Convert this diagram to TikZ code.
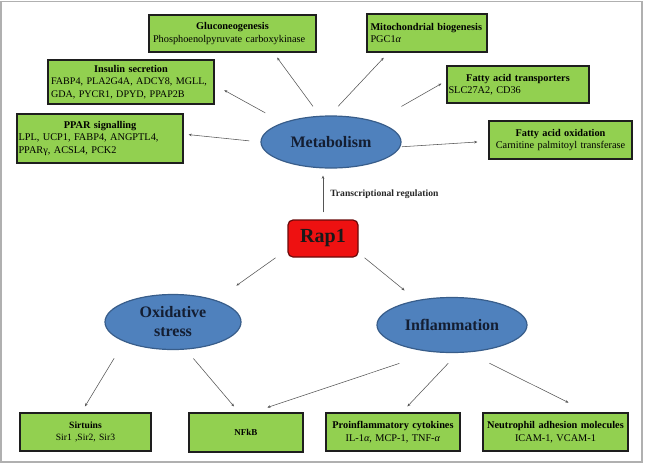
\documentclass[tikz,border=0pt]{standalone}
\usepackage{fontspec}
\setmainfont{Liberation Serif}
\usetikzlibrary{arrows.meta,shapes.geometric,calc}
\definecolor{gfill}{HTML}{92D050}
\definecolor{gdraw}{HTML}{1E1E1E}
\definecolor{ellfill}{HTML}{4F81BD}
\definecolor{elldraw}{HTML}{385D8A}
\definecolor{rapfill}{HTML}{EE1111}
\definecolor{rapdraw}{HTML}{6A0A0A}
\definecolor{ink}{HTML}{141E32}
\definecolor{framec}{HTML}{B0B0B0}
\definecolor{arrc}{HTML}{555555}
\begin{document}
\begin{tikzpicture}[x=1pt,y=-1pt,
  gbox/.style={draw=gdraw, line width=1.2pt, fill=gfill, inner ysep=0pt,
    font=\fontsize{10.3}{12.5}\selectfont, text=black, align=left},
  ell/.style={ellipse, draw=elldraw, fill=ellfill, line width=1.2pt, inner sep=0pt,
    font=\fontsize{16}{19}\selectfont\bfseries, text=ink, align=center},
  rapbox/.style={draw=rapdraw, fill=rapfill, line width=1.2pt, rounded corners=5pt,
    inner sep=0pt, font=\fontsize{20}{24}\selectfont\bfseries, text=black!90},
  arr/.style={-{Stealth[length=3.2pt,width=2.6pt]}, line width=0.55pt, draw=arrc},
  lbl/.style={font=\fontsize{9.6}{11}\selectfont\bfseries, text=black!85, inner sep=0pt}
]
\useasboundingbox (0,0) rectangle (646,464);
\draw[framec, line width=1.4pt] (1,1.5) rectangle (642,462);

% top boxes
\node[gbox, minimum width=167pt, minimum height=37pt, text width=159pt, inner xsep=4pt] (gluc) at (232.5,33.5)
  {{\centering\textbf{Gluconeogenesis}\par}Phosphoenolpyruvate carboxykinase};
\node[gbox, minimum width=166pt, minimum height=44pt, text width=160pt, inner xsep=3pt] (ins) at (131,82)
  {{\centering\textbf{Insulin secretion}\par}{\fontsize{10.1}{12.8}\selectfont FABP4, PLA2G4A, ADCY8, MGLL,\\GDA, PYCR1, DPYD, PPAP2B\par}};
\node[gbox, minimum width=166pt, minimum height=49pt, text width=163pt, inner xsep=1.5pt] (ppar) at (100,138.5)
  {{\centering\textbf{PPAR signalling}\par}LPL, UCP1, FABP4, ANGPTL4,\\PPARγ, ACSL4, PCK2};
\node[gbox, minimum width=120pt, minimum height=38pt, text width=113pt, inner xsep=3.5pt] (mito) at (427,33)
  {\textbf{Mitochondrial biogenesis}\\PGC1\textit{α}};
\node[gbox, minimum width=142pt, minimum height=37pt, text width=139pt, inner xsep=1.5pt] (fat) at (518,84.5)
  {{\centering\textbf{Fatty acid transporters}\par}SLC27A2, CD36};
\node[gbox, minimum width=143pt, minimum height=38pt, text width=139pt, inner xsep=2pt, align=center] (fao) at (560.5,140)
  {\textbf{Fatty acid oxidation}\\Carnitine palmitoyl transferase};

% ellipses and Rap1
\node[ell, minimum width=140pt, minimum height=52pt] (meta) at (331,142) {Metabolism};
\node[rapbox, minimum width=70pt, minimum height=37pt] (rap) at (323,238.5) {Rap1};
\node[ell, minimum width=136pt, minimum height=55pt] (ox) at (173,322) {Oxidative\\stress};
\node[ell, minimum width=150pt, minimum height=55pt] (inf) at (452,325) {Inflammation};

% bottom boxes
\node[gbox, minimum width=131pt, minimum height=38pt, text width=127pt, inner xsep=2pt, align=center,
  font=\fontsize{9.6}{12.5}\selectfont] (sir) at (85.5,432)
  {\textbf{Sirtuins}\\Sir1 ,Sir2, Sir3};
\node[gbox, minimum width=114pt, minimum height=39pt, text width=110pt, inner xsep=2pt, align=center,
  font=\fontsize{9}{11}\selectfont] (nfkb) at (246,432.5) {\textbf{NFkB}};
\node[gbox, minimum width=134pt, minimum height=38pt, text width=130pt, inner xsep=2pt, align=center] (pro) at (393,432)
  {\textbf{Proinflammatory cytokines}\\IL-1\textit{α}, MCP-1, TNF-\textit{α}};
\node[gbox, minimum width=145pt, minimum height=38pt, text width=141pt, inner xsep=2pt, align=center] (neu) at (555.5,432)
  {\textbf{Neutrophil adhesion molecules}\\ICAM-1, VCAM-1};

% connectors from Metabolism
\draw[arr, shorten <=11pt, shorten >=5pt] (meta.180) -- (ppar.3);
\draw[arr, shorten <=20pt, shorten >=11pt] (meta.158) -- (ins.-2);
\draw[arr, shorten <=11.6pt, shorten >=6.2pt] (meta.113) -- (gluc.-25);
\draw[arr, shorten <=12.5pt, shorten >=7pt] (meta.93.5) -- (mito.207.7);
\draw[arr, shorten <=30pt, shorten >=5.7pt] (meta.25.7) -- (fat.177.4);
\draw[arr, shorten <=1.5pt, shorten >=11pt] (meta.-4.2) -- (fao.181.9);

% Rap1
\draw[arr, shorten <=7pt, shorten >=7pt] (rap.north) --
  node[lbl, right=7pt] (treg) {Transcriptional regulation} (rap.north |- meta.south);
\draw[arr, shorten <=14.5pt, shorten >=25pt] (rap.197.9) -- (ox.27.9);
\draw[arr, shorten <=7.7pt, shorten >=15.4pt] (rap.-22.8) -- (inf.145.1);

% lower connectors
\draw[arr, shorten <=19.3pt, shorten >=7pt] (ox.202.2) -- (sir.102.5);
\draw[arr, shorten <=11.7pt, shorten >=7.8pt] (ox.-65.2) -- (nfkb.109.7);
\draw[arr, shorten <=35.4pt, shorten >=15.6pt] (inf.235.3) -- (nfkb.72.4);
\draw[arr, shorten <=14.1pt, shorten >=8.2pt] (inf.-78.6) -- (pro.66.2);
\draw[arr, shorten <=24.1pt, shorten >=21.9pt] (inf.-60.1) -- (neu.31.5);
\end{tikzpicture}
\end{document}
